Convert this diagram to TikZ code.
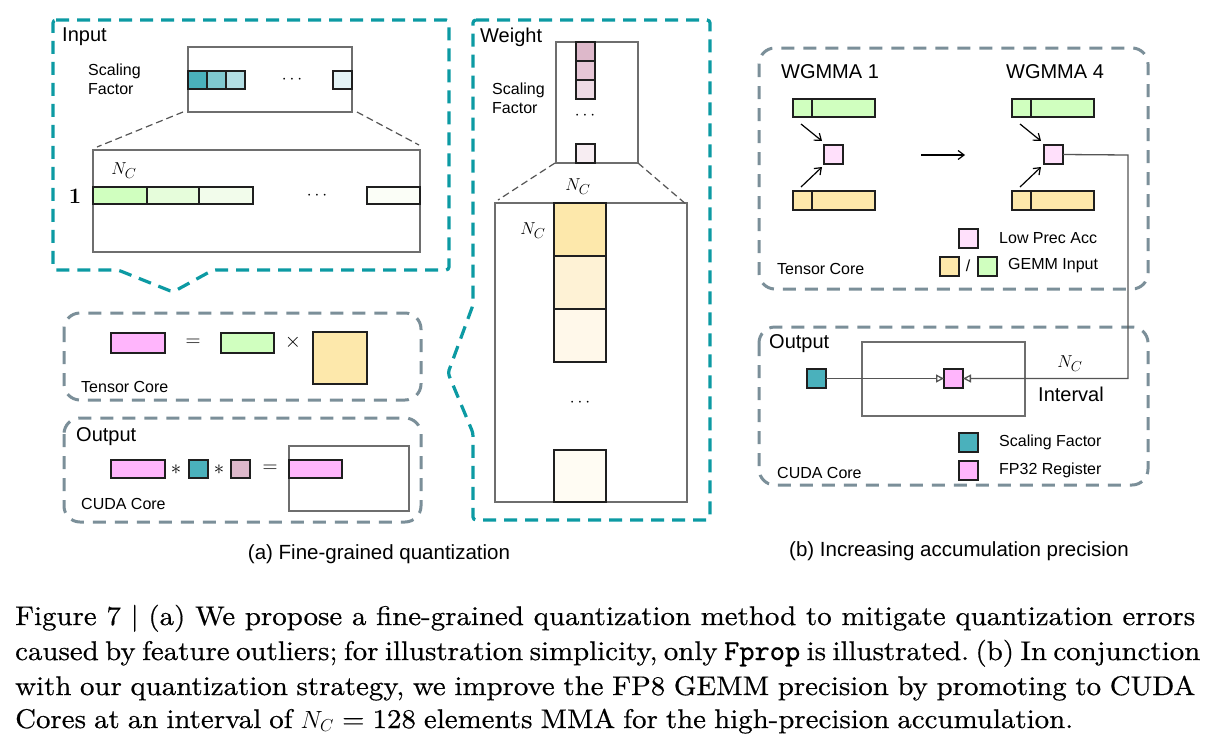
\documentclass[tikz,border=0pt]{standalone}
\usepackage{fontspec}
\setsansfont{Liberation Sans}
\newfontfamily\capfont{lmroman10-regular.otf}[FakeStretch=1.07,FakeBold=0.5]
\newfontfamily\capmono{lmmono10-regular.otf}[FakeBold=0.5]
\usetikzlibrary{arrows.meta,calc}
\definecolor{tealdash}{HTML}{0C9AA3}
\definecolor{greydash}{HTML}{7B8F99}
\definecolor{frameg}{HTML}{6E6E6E}
\definecolor{connc}{HTML}{555555}
\definecolor{pinkr}{HTML}{FFB5FC}
\definecolor{greenr}{HTML}{D0FFBF}
\definecolor{yellr}{HTML}{FDE8AB}
\definecolor{tealsq}{HTML}{4AB1BC}
\definecolor{mauve}{HTML}{DDB8CA}
\definecolor{lowpink}{HTML}{FFE0FB}
\definecolor{tealb}{HTML}{80C9D0}
\definecolor{tealc}{HTML}{B3DEE3}
\definecolor{teald}{HTML}{E3F3F6}
\definecolor{greenb}{HTML}{E6FDDB}
\definecolor{greenc}{HTML}{F2FCEB}
\definecolor{greend}{HTML}{FBFEF7}
\definecolor{mauveb}{HTML}{E6C6D6}
\definecolor{mauvec}{HTML}{EEDBE5}
\definecolor{mauved}{HTML}{F7EDF2}
\definecolor{yellb}{HTML}{FEF2D5}
\definecolor{yellc}{HTML}{FFF8EA}
\definecolor{yelld}{HTML}{FFFCF3}
\tikzset{
  cell/.style={draw=black!88, line width=1.4pt, inner sep=0pt, outer sep=0pt, anchor=north west},
  frame/.style={draw=frameg, line width=1.3pt, inner sep=0pt, outer sep=0pt, anchor=north west},
  tdash/.style={draw=tealdash, line width=3.2pt, dash pattern=on 13pt off 8pt, rounded corners=3pt},
  gdash/.style={draw=greydash, line width=3pt, dash pattern=on 13pt off 9pt, rounded corners=16pt},
  zoomline/.style={draw=connc, line width=1.2pt, dash pattern=on 7pt off 4pt},
  lbl/.style={font=\sffamily\fontsize{16}{19}\selectfont, inner sep=0pt, align=left},
  head/.style={font=\sffamily\fontsize{20}{22}\selectfont, inner sep=0pt},
  subcap/.style={font=\sffamily\fontsize{20.5}{23}\selectfont, inner sep=0pt},
  mth/.style={font=\fontsize{19}{21}\selectfont, inner sep=0pt},
  sym/.style={font=\fontsize{22}{24}\selectfont, inner sep=0pt},
  arr/.style={draw=black, line width=1.2pt, -{Straight Barb[length=6pt,width=9pt]}},
  conn/.style={draw=connc, line width=1.3pt, -{Triangle[open,length=8pt,width=8pt]}},
  capline/.style={font=\capfont\fontsize{27}{35}\selectfont\frenchspacing, inner sep=0pt, anchor=base west}
}
% name, fill, x1, y1, x2, y2
\newcommand\mkcell[6]{\node[cell, fill=#2, minimum width={(#5)-(#3)}, minimum height={(#6)-(#4)}] (#1) at (#3,#4) {};}
\newcommand\mkframe[5]{\node[frame, fill=white, minimum width={(#4)-(#2)}, minimum height={(#5)-(#3)}] (#1) at (#2,#3) {};}
\begin{document}
\begin{tikzpicture}[x=1pt,y=-1pt]
\useasboundingbox[fill=white] (0,0) rectangle (1205,737);

% ===== Input panel =====
\draw[tdash] (53,20) -- (449,20) -- (449,270) -- (213,270) -- (173,292) -- (118,270) -- (53,270) -- cycle;
\node[head, anchor=west] (inlbl) at (62,37) {Input};
\mkframe{sf1}{188}{47}{352}{112}
\mkcell{a1}{tealsq}{188}{71}{207}{89}
\mkcell{a2}{tealb}{207}{71}{226}{89}
\mkcell{a3}{tealc}{226}{71}{245}{89}
\mkcell{a4}{teald}{333}{71}{352}{89}
\node[mth] (adots) at (292,80) {$\cdots$};
\node[lbl, anchor=west] (insf) at (88,79) {Scaling\\Factor};
\mkframe{big1}{93}{150}{420}{252}
\draw[zoomline] ([xshift=-5pt]sf1.south west) -- ([shift={(4,-3)}]big1.north west);
\draw[zoomline] ([xshift=5pt]sf1.south east) -- ([shift={(-1,-5)}]big1.north east);
\mkcell{b1}{greenr}{93}{187}{147}{204}
\mkcell{b2}{greenb}{147}{187}{199}{204}
\mkcell{b3}{greenc}{199}{187}{253}{204}
\mkcell{b4}{greend}{367}{187}{420}{204}
\node[mth] (bdots) at (317,196) {$\cdots$};
\node[mth] (bnc) at (124,171) {$N_C$};
\node[font=\fontsize{22}{24}\selectfont\bfseries, inner sep=0pt] (one) at (75,196) {1};

% ===== Weight panel =====
\draw[tdash] (473,20) -- (710,20) -- (710,520) -- (473,520) -- (473,433) -- (448,373) -- (473,305) -- cycle;
\node[head, anchor=west] (wlbl) at (480,37) {Weight};
\mkframe{sfw}{556}{42}{638}{163}
\mkcell{w1}{mauve}{576}{42}{595}{61}
\mkcell{w2}{mauveb}{576}{61}{595}{80}
\mkcell{w3}{mauvec}{576}{80}{595}{99}
\mkcell{w4}{mauved}{576}{144}{595}{163}
\node[mth] (wdots) at (585,116) {$\cdots$};
\node[lbl, anchor=west] (wsf) at (492,98) {Scaling\\Factor};
\mkframe{big2}{495}{203}{687}{502}
\draw[zoomline] ([xshift=-1pt]sfw.south west) -- ([shift={(3,-3)}]big2.north west);
\draw[zoomline] (sfw.south east) -- ([yshift=-2pt]big2.north east);
\mkcell{y1}{yellr}{554}{203}{606}{256}
\mkcell{y2}{yellb}{554}{256}{606}{309}
\mkcell{y3}{yellc}{554}{309}{606}{362}
\mkcell{y4}{yelld}{554}{450}{606}{502}
\node[mth] (ync1) at (578,187) {$N_C$};
\node[mth] (ync2) at (533,231) {$N_C$};
\node[mth] (ydots) at (580,403) {$\cdots$};

% ===== Tensor Core (a) =====
\draw[gdash] (64,313) rectangle (421,400);
\mkcell{tp}{pinkr}{111}{333}{165}{353}
\node[sym] (teq) at (193,343) {$=$};
\mkcell{tg}{greenr}{221}{333}{274}{353}
\node[sym] (tx) at (293,342) {$\times$};
\mkcell{ty}{yellr}{313}{332}{367}{384}
\node[lbl, anchor=west] (tclbl) at (81,387) {Tensor Core};

% ===== Output (a) =====
\draw[gdash] (64,418) rectangle (421,522);
\node[head, anchor=west] (olbl) at (76,437) {Output};
\mkcell{op}{pinkr}{111}{460}{165}{478}
\node[sym] (os1) at (176,470) {$\ast$};
\mkcell{ot}{tealsq}{189}{460}{208}{478}
\node[sym] (os2) at (219,470) {$\ast$};
\mkcell{om}{mauve}{231}{460}{250}{478}
\node[sym] (oeq) at (270,469) {$=$};
\mkframe{ofr}{289}{446}{409}{511}
\mkcell{op2}{pinkr}{289}{460}{342}{478}
\node[lbl, anchor=west] (cclbl) at (81,504) {CUDA Core};

\node[subcap] (capa) at (379,554) {(a) Fine-grained quantization};

% ===== Right: Tensor Core =====
\draw[gdash] (759,48) rectangle (1148,289);
\node[head] (wg1) at (830,72) {WGMMA 1};
\node[head] (wg4) at (1055,72) {WGMMA 4};
\mkcell{g1a}{greenr}{793}{99}{812}{117}
\mkcell{g1b}{greenr}{812}{99}{875}{117}
\mkcell{p1}{lowpink}{824}{145}{843}{164}
\mkcell{y1a}{yellr}{793}{191}{812}{210}
\mkcell{y1b}{yellr}{812}{191}{875}{210}
\mkcell{g4a}{greenr}{1012}{99}{1031}{117}
\mkcell{g4b}{greenr}{1031}{99}{1094}{117}
\mkcell{p4}{lowpink}{1044}{145}{1063}{164}
\mkcell{y4a}{yellr}{1012}{191}{1031}{210}
\mkcell{y4b}{yellr}{1031}{191}{1094}{210}
\draw[arr] ([shift={(8,7)}]g1a.south west) -- ([shift={(-2,-4)}]p1.north west);
\draw[arr] ([shift={(8,-4)}]y1a.north west) -- ([shift={(-2,3)}]p1.south west);
\draw[arr] ([shift={(8,7)}]g4a.south west) -- ([shift={(-3,-4)}]p4.north west);
\draw[arr] ([shift={(8,-4)}]y4a.north west) -- ([shift={(-3,3)}]p4.south west);
\coordinate (mA) at (921,155);
\coordinate (mB) at (965,155);
\draw[arr] (mA) -- (mB);
\mkcell{lg1}{lowpink}{959}{229}{978}{248}
\node[lbl, anchor=west] (lgt1) at (999,238) {Low Prec Acc};
\mkcell{lg2}{yellr}{940}{257}{959}{276}
\node[lbl] (slash) at (968,266) {/};
\mkcell{lg3}{greenr}{978}{257}{997}{276}
\node[lbl, anchor=west] (lgt2) at (1008,266) {GEMM Input};
\node[lbl, anchor=west] (rtc) at (777,269) {Tensor Core};

% ===== Right: CUDA Core =====
\draw[gdash] (759,327) rectangle (1148,485);
\node[head, anchor=west] (rolbl) at (769,344) {Output};
\mkframe{rfr}{862}{342}{1025}{416}
\mkcell{rts}{tealsq}{807}{369}{826}{388}
\mkcell{reg}{pinkr}{944}{369}{963}{388}
\node[mth] (rnc) at (1070,364) {$N_C$};
\node[head] (rint) at (1071,394) {Interval};
\coordinate (turn) at (1128,155);
\draw[conn] (p4.east) -- (turn) |- (reg.east);
\draw[conn] (rts.east) -- (reg.west);
\mkcell{lg4}{tealsq}{959}{433}{978}{452}
\node[lbl, anchor=west] (lgt4) at (999,442) {Scaling Factor};
\mkcell{lg5}{pinkr}{959}{461}{978}{480}
\node[lbl, anchor=west] (lgt5) at (999,470) {FP32 Register};
\node[lbl, anchor=west] (rcc) at (777,473) {CUDA Core};

\node[subcap] (capb) at (959,551) {(b) Increasing accumulation precision};

% ===== Caption =====
\node[capline] (c1) at (15,625) {\makebox[1180pt][s]{Figure 7 | (a) We propose a fine-grained quantization method to mitigate quantization errors}};
\node[capline] (c2) at (15,660) {\makebox[1180pt][s]{caused by feature outliers; for illustration simplicity, only {\capmono\fontsize{29}{35}\selectfont Fprop} is illustrated. (b) In conjunction}};
\node[capline] (c3) at (15,695) {\makebox[1180pt][s]{with our quantization strategy, we improve the FP8 GEMM precision by promoting to CUDA}};
\node[capline] (c4) at (15,728) {\makebox[1058pt][s]{Cores at an interval of $N_C$ = 128 elements MMA for the high-precision accumulation.}};
\end{tikzpicture}
\end{document}
